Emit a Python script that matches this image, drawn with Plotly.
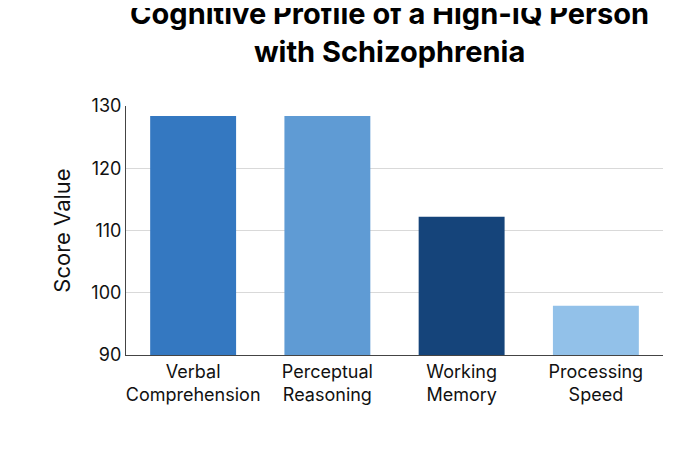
import plotly.graph_objects as go

categories = ["Verbal<br>Comprehension", "Perceptual<br>Reasoning", "Working<br>Memory", "Processing<br>Speed"]
scores = [128.4, 128.4, 112.2, 97.9]
bar_colors = ["#3478c1", "#5f9bd4", "#15447a", "#92c1e9"]

fig = go.Figure(go.Bar(x=categories, y=scores, marker=dict(color=bar_colors, line=dict(width=0))))

fig.update_layout(
    width=690, height=460,
    paper_bgcolor="white", plot_bgcolor="white",
    font=dict(family="Inter, Roboto, sans-serif", size=18, color="#111"),
    title=dict(text="<b>Cognitive Profile of a High-IQ Person<br>with Schizophrenia</b>",
               x=0.553, xanchor="center", y=0.965, yanchor="top",
               font=dict(size=29, color="black"), automargin=False),
    margin=dict(l=118, r=35, t=98, b=113, autoexpand=False),
    bargap=0.36,
    showlegend=False,
)
fig.update_yaxes(range=[90, 130], dtick=10, title_text="Score Value", title_standoff=14,
                 showgrid=True, gridcolor="#d9d9d9", showline=True, automargin=False,
                 linecolor="#444", ticks="", zeroline=False)
fig.update_xaxes(showline=True, linecolor="#444", ticks="", automargin=False)

fig.write_html("out.html")
